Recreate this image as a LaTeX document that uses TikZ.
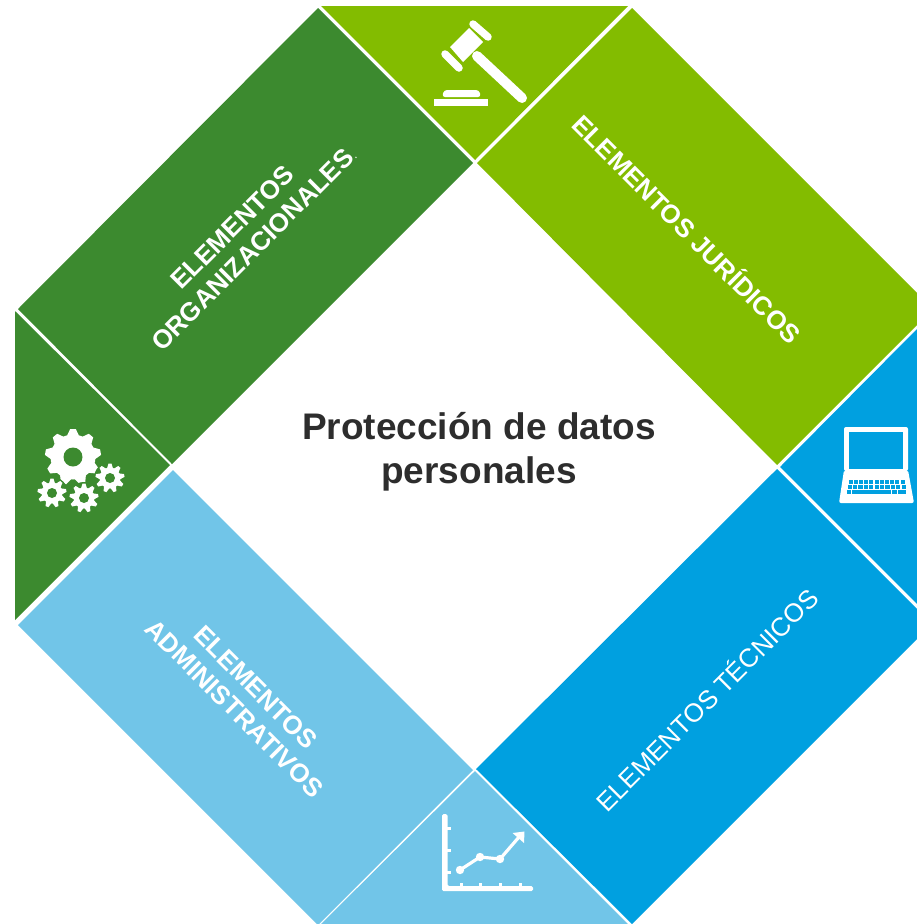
\documentclass[tikz,border=0pt]{standalone}
\usepackage{fontspec}
\setmainfont{Liberation Sans}
\usepackage{xcolor}
\usepackage{tikz}
\usetikzlibrary{calc}
\usetikzlibrary{arrows.meta}
\definecolor{darkgreen}{HTML}{3C8A2F}
\definecolor{limegreen}{HTML}{83BC00}
\definecolor{strongblue}{HTML}{00A0E0}
\definecolor{paleblue}{HTML}{71C5E8}
\definecolor{titlegray}{HTML}{2D2D2D}
\tikzset{>=latex}
\tikzstyle{bandlabel} = [text = white, font = \fontsize{26}{30}\selectfont\bfseries, align = center, inner sep = 0pt]
\tikzstyle{thinlabel} = [text = white, font = \fontsize{26}{30}\selectfont, align = center, inner sep = 0pt]
\tikzstyle{titlelabel} = [text = titlegray, font = \fontsize{37}{44}\selectfont\bfseries, align = center, inner sep = 0pt]
\tikzstyle{iconline} = [draw = white, line cap = round, line join = round]
\newcommand{\geargroup}[6]{%
 \fill [#6] (#1, #2) circle (#3 + 1.5);
 \fill [white] (#1, #2) circle (#4);
 \foreach \ang in {0, 40, ..., 320} {
  \fill [white, shift = {(#1, #2)}, rotate = \ang + 10] (#3, -#3 * .1) -- (#3, #3 * .1) -- (#4 - 1, #3 * .21) -- (#4 - 1, -#3 * .21) -- cycle;
 }
 \fill [#6] (#1, #2) circle (#5);
}
\begin{document}
\begin{tikzpicture}[x = 1pt, y = -1pt]
 \useasboundingbox (0, 0) rectangle (917, 924);
 \fill [white] (0, 0) rectangle (917, 924);
 % green band and triangle
 \fill [darkgreen] (318, 8) -- (473, 163) -- (172, 464) -- (18, 309) -- cycle;
 \fill [darkgreen] (15, 311) -- (170, 465) -- (15, 620) -- cycle;
 \fill [limegreen] (321, 6) -- (628, 6) -- (475, 160) -- cycle;
 \fill [limegreen] (632, 8) -- (917, 293) -- (917, 325) -- (777, 465) -- (477, 163) -- cycle;
 \fill [strongblue] (917, 329) -- (780, 467) -- (917, 604) -- cycle;
 \fill [strongblue] (777, 469) -- (917, 609) -- (917, 639) -- (632, 924) -- (476, 769) -- cycle;
 \fill [paleblue] (475, 771) -- (628, 924) -- (321, 924) -- cycle;
 \fill [paleblue] (18, 625) -- (173, 470) -- (473, 770) -- (318, 925) -- cycle;
 % labels
 \node [titlelabel] (title) at (479, 452) {Protección de datos\\personales};
 \node [bandlabel, rotate = 45] (org) at (243, 238) {ELEMENTOS\\ORGANIZACIONALES{\fontsize{12}{14}\selectfont\mdseries.}};
 \node [bandlabel, rotate = -45] (jur) at (688, 228) {ELEMENTOS JURÍDICOS};
 \node [thinlabel, rotate = 45] (tec) at (706, 699) {ELEMENTOS TÉCNICOS};
 \node [bandlabel, rotate = -45] (adm) at (245, 698) {ELEMENTOS\\ADMINISTRATIVOS};
 % gavel
 \fill [white] (469, 28) -- (483, 42) -- (463, 62) -- (450, 47) -- cycle;
 \draw [iconline, line width = 7.5] (473, 24) -- (488, 37);
 \draw [iconline, line width = 7.5] (445, 54) -- (459, 68);
 \draw [iconline, line width = 10] (477, 56) -- (522, 98);
 \fill [white, rounded corners = 3] (442, 97) -- (444, 90) -- (479, 90) -- (481, 97) -- cycle;
 \fill [white] (434, 99) rectangle (488, 106);
 % gears
 \geargroup{73}{457}{28}{22.5}{9.5}{darkgreen}
 \geargroup{110}{478}{14.5}{10.5}{5}{darkgreen}
 \geargroup{52}{493}{14.5}{10.5}{5}{darkgreen}
 \geargroup{84}{498}{14.5}{10.5}{5}{darkgreen}
 % laptop
 \fill [white, rounded corners = 2] (844, 471) -- (844, 427) -- (908, 427) -- (908, 471) -- cycle;
 \fill [white, rounded corners = 2] (844, 470) -- (908, 470) -- (914, 503) -- (839, 503) -- cycle;
 \fill [strongblue] (849, 432) rectangle (903, 469);
 \foreach \n in {0, ..., 10} {
  \fill [strongblue] (848.5 + \n * 5.2, 480) rectangle +(4, 4);
  \fill [strongblue] (847.5 + \n * 5.4, 485) rectangle +(4.2, 4);
 }
 \fill [strongblue] (846.5, 490) rectangle +(4.5, 4);
 \fill [strongblue] (852, 490) rectangle +(4.5, 4);
 \fill [strongblue] (857, 490) rectangle (891, 494);
 \fill [strongblue] (892, 490) rectangle +(5, 4);
 \fill [strongblue] (898, 490) rectangle +(7.5, 4);
 % chart
 \fill [white, rounded corners = 1.5] (442, 814) -- (447.5, 814) -- (447.5, 886) -- (533, 886) -- (533, 891) -- (442, 891) -- cycle;
 \foreach \yy in {828, 850, 872} {
  \fill [white] (447, \yy - 1.5) rectangle (451, \yy + 1.5);
 }
 \foreach \xx in {461, 480, 500, 520} {
  \fill [white] (\xx - 1.5, 882.5) rectangle (\xx + 1.5, 887);
 }
 \draw [iconline, line width = 3.2] (460, 870) -- (480, 857) -- (500, 859) -- (519, 837);
 \fill [white] (524.5, 831.5) -- (524, 843) -- (512.5, 833) -- cycle;
 \foreach \xx/\yy in {460/870, 480/857, 500/859} {
  \fill [white] (\xx, \yy) circle (4.2);
 }
\end{tikzpicture}
\end{document}
